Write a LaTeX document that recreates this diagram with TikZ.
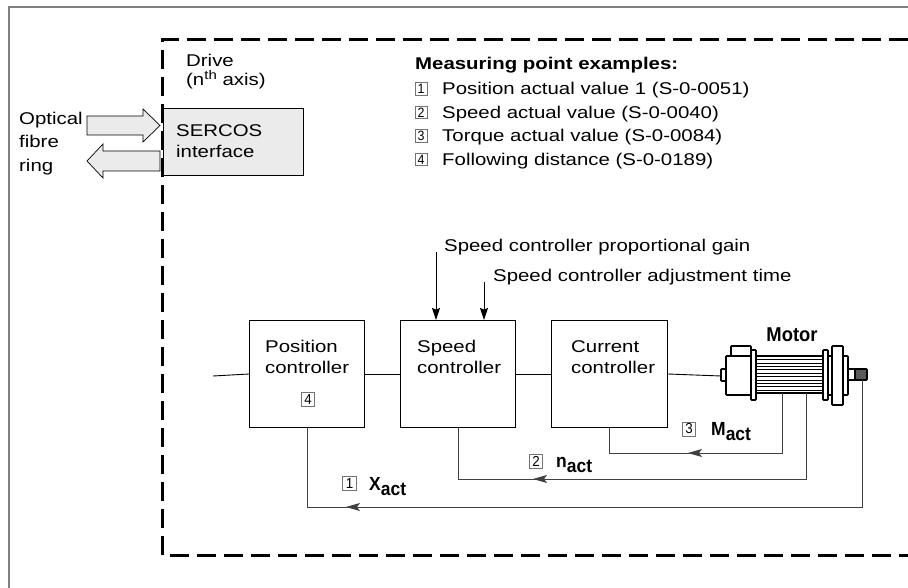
\documentclass[tikz,border=0pt]{standalone}
\usepackage{fontspec}
\setmainfont{Liberation Sans}[FakeStretch=1.2]
\newfontfamily\condfont{Liberation Sans}[FakeStretch=0.92]
\usetikzlibrary{arrows.meta,decorations.markings,calc}

% bold signal name with a full-size, lowered index
\newcommand\actname[1]{{\condfont\bfseries #1\raisebox{-5pt}{act}}}

\begin{document}
\begin{tikzpicture}[x=1pt,y=-1pt,
  txt/.style={anchor=base west, inner sep=0pt, font=\fontsize{17}{23}\selectfont},
  btxt/.style={txt, font=\fontsize{17}{23}\selectfont\bfseries},
  lbl/.style={anchor=base west, inner sep=0pt, font=\fontsize{19}{19}\selectfont},
  block/.style={draw, line width=1pt, minimum width=115pt, minimum height=107pt,
    inner sep=0pt, anchor=north west},
  numbox/.style={draw=black!55, line width=0.7pt, minimum width=12pt,
    minimum height=12.5pt, inner sep=0pt, font=\fontsize{13.5}{13.5}\condfont},
  bignum/.style={numbox, minimum width=13.5pt, minimum height=14pt,
    font=\fontsize{14.5}{14.5}\condfont},
  sig/.style={line width=0.9pt},
  inarrow/.style={sig, -{Stealth[length=12pt,width=8pt,inset=1.5pt]}},
  fb/.style={line width=0.9pt, draw=black!75},
  fbmid/.style={postaction={decorate, decoration={markings,
    mark=at position #1 with {\arrow{Stealth[length=14pt,width=8pt,inset=3pt]}}}}},
  part/.style={draw, line width=1.7pt, fill=white, rounded corners=0.8pt},
  hollow/.style={draw, line width=0.7pt, fill=black!8},
  drivebox/.style={draw, line width=3pt, dash pattern=on 19pt off 8pt},
]
\useasboundingbox (0,0) rectangle (908,588);

% outer frame
\draw[black!50, line width=1.3pt] (9,588) -- (9,7) -- (908,7);

% SERCOS interface
\node[draw, line width=1.2pt, fill=black!8, minimum width=140pt, minimum height=67pt,
  anchor=north west, inner sep=0pt] (sercos) at (163,108) {};
\node[txt] (sercos1) at (176,137) {SERCOS};
\node[txt] (sercos2) at (176,158) {interface};

% optical fibre ring arrows
\draw[hollow] (87,116) -- (143,116) -- (143,109) -- (160,125.5) -- (143,142)
  -- (143,135) -- (87,135) -- cycle;
\draw[hollow] (160,151) -- (103,151) -- (103,144) -- (87,161) -- (103,178)
  -- (103,171) -- (160,171) -- cycle;
\node[txt] (opt1) at (19,125) {Optical};
\node[txt] (opt2) at (19,148) {fibre};
\node[txt] (opt3) at (19,172) {ring};

% drive border
\draw[drivebox] (908,40) -- (162,40) -- (162,555) -- (908,555);
\node[txt] (drive1) at (186,67) {Drive};
\node[txt] (drive2) at (186,86) {(n\raisebox{6.5pt}{\fontsize{12.5}{12.5}\selectfont th} axis)};

% measuring points
\node[btxt] (mhead) at (415,70) {Measuring point examples:};
\node[numbox] (l1) at (421,89) {1};
\node[txt] (t1) at (442,95) {Position actual value 1 (S-0-0051)};
\node[numbox] (l2) at (421,112.5) {2};
\node[txt] (t2) at (442,118.5) {Speed actual value (S-0-0040)};
\node[numbox] (l3) at (421,136) {3};
\node[txt] (t3) at (442,142) {Torque actual value (S-0-0084)};
\node[numbox] (l4) at (421,159.5) {4};
\node[txt] (t4) at (442,165.5) {Following distance (S-0-0189)};

% controllers
\node[block] (pos) at (249,320) {};
\node[block] (spd) at (400,320) {};
\node[block, minimum width=116pt] (cur) at (551,320) {};
\node[txt] (pos1) at (265,352) {Position};
\node[txt] (pos2) at (265,373) {controller};
\node[bignum] (n4) at (308,399.5) {4};
\node[txt] (spd1) at (417,352) {Speed};
\node[txt] (spd2) at (417,373) {controller};
\node[txt] (cur1) at (571,352) {Current};
\node[txt] (cur2) at (571,373) {controller};

% controller parameters
\node[txt] (kp) at (444,252) {Speed controller proportional gain};
\node[txt] (tn) at (493,281) {Speed controller adjustment time};
\coordinate (kpin) at (436,252);
\coordinate (tnin) at (484,282);
\draw[inarrow] (kpin) -- (kpin |- spd.north);
\draw[inarrow] (tnin) -- (tnin |- spd.north);

% motor
\coordinate (motin) at (721,376);
\draw[part] (721,369) rectangle (726,381);
\draw[part] (731,346) rectangle (751,356);
\draw[part] (726,356) rectangle (751,395);
\draw[part] (756,356) rectangle (823,393);
\foreach \yy in {359.5,362.9,366.3,369.7,373.1,376.5,379.9,383.3,386.7,390.1}
  \draw[line width=0.6pt] (757,\yy) -- (822,\yy);
\draw[part] (751,350) rectangle (756,400);
\draw[part] (823,350) rectangle (828,400);
\draw[part] (828,356) rectangle (832,395);
\draw[part] (843,356) rectangle (848,395);
\draw[part] (832,346) rectangle (843,405);
\draw[part] (848,369) rectangle (867,380);
\fill[black!65] (855,370) rectangle (866,379);
\draw[line width=1.7pt] (855,369) -- (855,380);
\node[lbl, anchor=base, font=\fontsize{20}{20}\condfont\bfseries] (motor) at (792,341) {Motor};
\coordinate (tapM) at (782,393);
\coordinate (tapN) at (806,393);
\coordinate (tapX) at (862,380);

% forward signal path
\coordinate (setp) at (213,376);
\draw[sig] (setp) -- (pos.west);
\draw[sig] (pos.east) -- (spd.west);
\draw[sig] (spd.east) -- (cur.west);
\draw[sig] (cur.east) -- (motin);

% feedback paths
\draw[fb, fbmid=154pt] (tapM) -- (tapM |- 0,453) -| (cur.south);
\draw[fb, fbmid=359pt] (tapN) -- (tapN |- 0,479) -| (spd.south);
\draw[fb, fbmid=643pt] (tapX) -- (tapX |- 0,507) -| (pos.south);

% feedback labels
\node[bignum] (f3) at (689,429) {3};
\node[lbl] (mact) at (711,435) {\actname{M}};
\node[bignum] (f2) at (536,461.5) {2};
\node[lbl] (nact) at (556,467) {\actname{n}};
\node[bignum] (f1) at (349.5,483.5) {1};
\node[lbl] (xact) at (369,490) {\actname{X}};
\end{tikzpicture}
\end{document}
